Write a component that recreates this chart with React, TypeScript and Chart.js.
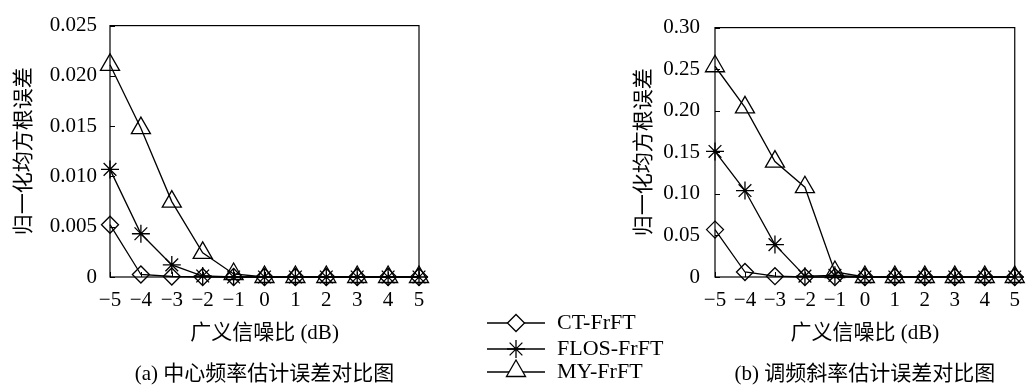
import React, { useEffect, useRef } from 'react';
import { Chart, registerables } from 'chart.js';

Chart.register(...registerables);

// ---------- data ----------
const xLabels = ['−5', '−4', '−3', '−2', '−1', '0', '1', '2', '3', '4', '5'];
const seriesNames = ['CT-FrFT', 'FLOS-FrFT', 'MY-FrFT'];

// (a) centre frequency error
const ctA = [0.0052, 0.00025, 0.00005, 0, 0, 0, 0, 0, 0, 0, 0];
const flosA = [0.0107, 0.0043, 0.0012, 0.0001, 0, 0, 0, 0, 0, 0, 0];
const myA = [0.0211, 0.0148, 0.0075, 0.0024, 0.0003, 0, 0, 0, 0, 0, 0];
const yTickValuesA = [0, 0.005, 0.01, 0.015, 0.02, 0.025];
const yTickLabelsA = ['0', '0.005', '0.010', '0.015', '0.020', '0.025'];

// (b) chirp rate error
const ctB = [0.057, 0.006, 0.001, 0, 0, 0, 0, 0, 0, 0, 0];
const flosB = [0.151, 0.104, 0.039, 0.001, 0.002, 0, 0, 0, 0, 0, 0];
const myB = [0.2535, 0.204, 0.1388, 0.108, 0.006, 0, 0, 0, 0, 0, 0];
const yTickValuesB = [0, 0.05, 0.1, 0.15, 0.2, 0.25, 0.3];
const yTickLabelsB = ['0', '0.05', '0.10', '0.15', '0.20', '0.25', '0.30'];

const xTitle = '广义信噪比 (dB)';
const yTitle = '归一化均方根误差';
const captionA = '(a) 中心频率估计误差对比图';
const captionB = '(b) 调频斜率估计误差对比图';

// ---------- styles ----------
const SERIF = '"Liberation Serif", "Noto Sans CJK SC", serif';
const pointStyles = ['rectRot', 'star', 'triangle'];
const pointRadii = [8.5, 9, 11];
const LW = 1.3;

function drawMarker(ctx: CanvasRenderingContext2D, style: string, x: number, y: number, r: number) {
  ctx.beginPath();
  if (style === 'rectRot') {
    ctx.moveTo(x - r, y);
    ctx.lineTo(x, y - r);
    ctx.lineTo(x + r, y);
    ctx.lineTo(x, y + r);
    ctx.closePath();
    ctx.fill();
    ctx.stroke();
  } else if (style === 'triangle') {
    ctx.moveTo(x, y - r);
    ctx.lineTo(x + r * 0.866, y + r * 0.5);
    ctx.lineTo(x - r * 0.866, y + r * 0.5);
    ctx.closePath();
    ctx.fill();
    ctx.stroke();
  } else {
    const d = r * Math.SQRT1_2;
    ctx.moveTo(x - r, y); ctx.lineTo(x + r, y);
    ctx.moveTo(x, y - r); ctx.lineTo(x, y + r);
    ctx.moveTo(x - d, y - d); ctx.lineTo(x + d, y + d);
    ctx.moveTo(x - d, y + d); ctx.lineTo(x + d, y - d);
    ctx.stroke();
  }
}

const framePlugin = {
  id: 'frame',
  beforeDatasetsDraw(chart: any) {
    const { ctx, chartArea: a, scales } = chart;
    ctx.save();
    ctx.strokeStyle = '#000';
    ctx.lineWidth = 1.2;
    ctx.strokeRect(a.left, a.top, a.right - a.left, a.bottom - a.top);
    ctx.lineWidth = 1;
    ctx.beginPath();
    scales.y.ticks.forEach((t: any) => {
      const yy = Math.round(scales.y.getPixelForValue(t.value)) + 0.5;
      ctx.moveTo(a.left, yy);
      ctx.lineTo(a.left + 5, yy);
    });
    scales.x.ticks.forEach((t: any, i: number) => {
      const xx = Math.round(scales.x.getPixelForTick(i)) + 0.5;
      ctx.moveTo(xx, a.bottom);
      ctx.lineTo(xx, a.bottom - 5);
    });
    ctx.stroke();
    ctx.restore();
  },
};

const legendPlugin = {
  id: 'customLegend',
  afterDraw(chart: any) {
    const opts = chart.options.plugins.customLegend;
    if (!opts || !opts.show) return;
    const { ctx } = chart;
    const rows = [323, 349, 372];
    ctx.save();
    ctx.strokeStyle = '#000';
    ctx.fillStyle = '#fff';
    ctx.lineWidth = LW;
    chart.data.datasets.forEach((ds: any, i: number) => {
      const y = rows[i];
      ctx.beginPath();
      ctx.moveTo(487, y);
      ctx.lineTo(545, y);
      ctx.stroke();
      ctx.fillStyle = '#fff';
      drawMarker(ctx, ds.pointStyle, 516, i === 2 ? y - 1 : y, ds.pointRadius);
      ctx.fillStyle = '#000';
      ctx.font = '22px ' + SERIF;
      ctx.textBaseline = 'middle';
      ctx.textAlign = 'left';
      ctx.fillText(ds.label, 557, y);
    });
    ctx.restore();
  },
};

function makeConfig(series: number[][], yVals: number[], yLabels: string[], caption: string,
  yAxisWidth: number, yTickPad: number, padRight: number, showLegend: boolean) {
  const yMax = yVals[yVals.length - 1];
  return {
    type: 'line' as const,
    data: {
      labels: xLabels,
      datasets: series.map((s, i) => ({
        label: seriesNames[i],
        data: s,
        borderColor: '#000',
        borderWidth: LW,
        backgroundColor: 'rgba(0,0,0,0)',
        pointStyle: pointStyles[i],
        pointRadius: pointRadii[i],
        pointBorderWidth: LW,
        pointBorderColor: '#000',
        pointBackgroundColor: 'rgba(0,0,0,0)',
        tension: 0,
        clip: false as any,
        fill: false,
      })),
    },
    options: {
      responsive: false,
      animation: false as const,
      devicePixelRatio: 1,
      layout: { padding: { top: 19, right: padRight, bottom: 0, left: 0 } },
      plugins: {
        legend: { display: false },
        tooltip: { enabled: false },
        title: {
          display: true,
          position: 'bottom' as const,
          fullSize: false,
          text: caption,
          color: '#000',
          font: { family: SERIF, size: 21, weight: 'normal' as const, lineHeight: 1 },
          padding: { top: 0, bottom: 0 },
        },
        customLegend: { show: showLegend },
      },
      scales: {
        x: {
          type: 'category' as const,
          offset: false,
          grid: { display: false, drawTicks: false },
          border: { display: false },
          ticks: {
            color: '#000',
            padding: 11,
            maxRotation: 0,
            autoSkip: false,
            font: { family: SERIF, size: 21 },
          },
          title: {
            display: true,
            text: xTitle,
            color: '#000',
            font: { family: SERIF, size: 21, lineHeight: 1.2 },
            padding: { top: 0, bottom: 18 },
          },
          afterFit: (scale: any) => { scale.height = 87; },
        },
        y: {
          type: 'linear' as const,
          min: 0,
          max: yMax,
          grid: { display: false, drawTicks: false },
          border: { display: false },
          afterBuildTicks: (scale: any) => { scale.ticks = yVals.map((v) => ({ value: v })); },
          ticks: {
            color: '#000',
            padding: yTickPad,
            font: { family: SERIF, size: 21 },
            callback: (_v: any, idx: number) => yLabels[idx],
          },
          title: {
            display: true,
            text: yTitle,
            color: '#000',
            font: { family: SERIF, size: 21, lineHeight: 1.2 },
            padding: { top: 12, bottom: 0 },
          },
          afterFit: (scale: any) => { scale.width = yAxisWidth; },
        },
      },
    },
    plugins: [framePlugin, legendPlugin],
  };
}

function ChartCanvas({ config, left, width, height }: { config: any; left: number; width: number; height: number }) {
  const ref = useRef<HTMLCanvasElement>(null);
  useEffect(() => {
    if (!ref.current) return;
    const chart = new Chart(ref.current, config);
    return () => chart.destroy();
  }, []);
  return (
    <canvas
      ref={ref}
      width={width}
      height={height}
      style={{ position: 'absolute', left, top: 0, width, height }}
    />
  );
}

export default function App() {
  const cfgA = makeConfig([ctA, flosA, myA], yTickValuesA, yTickLabelsA, captionA, 110, 13, 281, true);
  const cfgB = makeConfig([ctB, flosB, myB], yTickValuesB, yTickLabelsB, captionB, 95, 15, 6, false);
  return (
    <div style={{ position: 'absolute', left: 0, top: 0, width: 1031, height: 385, background: '#fff', overflow: 'hidden' }}>
      <ChartCanvas config={cfgA} left={0} width={700} height={385} />
      <ChartCanvas config={cfgB} left={620} width={411} height={385} />
    </div>
  );
}
